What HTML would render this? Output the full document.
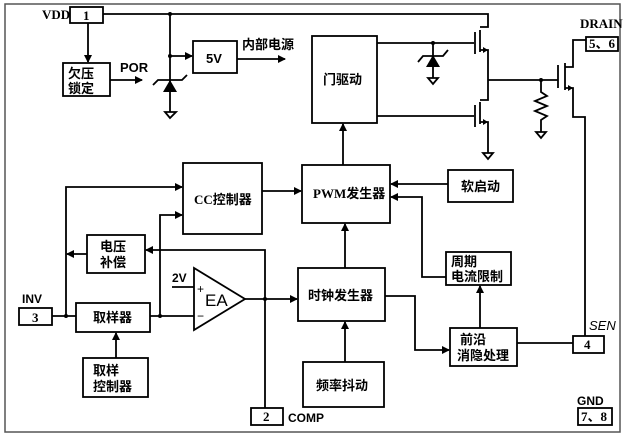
<!DOCTYPE html>
<html><head><meta charset="utf-8"><style>
html,body{margin:0;padding:0;background:#fff;}
svg{display:block;}
text{font-family:"Liberation Sans","Noto Sans CJK SC",sans-serif;fill:#000;}
.c{font-family:"Liberation Serif","Noto Sans CJK SC",serif;font-size:13px;font-weight:bold;}
</style></head><body>
<svg width="625" height="438" viewBox="0 0 625 438" xmlns="http://www.w3.org/2000/svg">
<defs><marker id="a" markerWidth="8" markerHeight="8" refX="7" refY="4" orient="auto" markerUnits="userSpaceOnUse"><path d="M0,0 L8,4 L0,8 z" fill="#000"/></marker></defs>
<rect x="0" y="0" width="625" height="438" fill="#fff"/>
<rect x="5" y="4" width="615" height="428" fill="none" stroke="#555" stroke-width="1.5"/>
<g stroke="#000" stroke-width="1.8" fill="none">
<rect x="70" y="7" width="33" height="16"/>
<path d="M103,14 H488 V27 H480"/>
<path d="M88,23 V62" marker-end="url(#a)"/>
<rect x="63" y="63" width="47" height="33"/>
<path d="M110,80 H142" marker-end="url(#a)"/>
<path d="M170,14 V104"/>
<path d="M170,56 H192" marker-end="url(#a)"/>
<rect x="193" y="41" width="44" height="32"/>
<path d="M237,59 H285" marker-end="url(#a)"/>
<path d="M153,85 L158,80 H182 L187,75"/>
<path d="M165,112 H176 L170,118 z M170,104 V112"/>
<rect x="312" y="36" width="65" height="87"/>
<path d="M343,165 V124" marker-end="url(#a)"/>
<path d="M377,43 H474 M377,116 H474"/>
<path d="M475,32 V54 M475,105 V127 M480,30 V52 M480,102 V124"/>
<path d="M480,50 H488 V100 H480 M480,122 H488 V153"/>
<path d="M483,153 H493 L488,159 z"/>
<path d="M488,80 H558"/>
<path d="M433,43 V78 M428,78 H438 L433,84 z"/>
<path d="M418,62 L423,56 H443 L448,50"/>
<path d="M541,80 V92 L547,96 L535,101 L547,106 L535,111 L547,116 L541,120 V132 M536,132 H546 L541,138 z"/>
<path d="M558,65 V88 M565,63 V90 M565,67 H573 V40 H586 M565,88 H573 V117 H585 V336"/>
<rect x="586" y="37" width="32" height="14"/>
<rect x="183" y="163" width="79" height="71"/>
<path d="M262,191 H301" marker-end="url(#a)"/>
<rect x="302" y="165" width="88" height="58"/>
<rect x="448" y="170" width="65" height="32"/>
<path d="M448,184 H391" marker-end="url(#a)"/>
<rect x="446" y="252" width="65" height="33"/>
<path d="M446,277 H422 V197 H391" marker-end="url(#a)"/>
<rect x="298" y="268" width="87" height="53"/>
<path d="M345,268 V224" marker-end="url(#a)"/>
<path d="M385,296 H415 V350 H449" marker-end="url(#a)"/>
<rect x="450" y="328" width="67" height="38"/>
<path d="M480,328 V286" marker-end="url(#a)"/>
<path d="M517,343 H573"/>
<rect x="573" y="336" width="31" height="17"/>
<rect x="303" y="362" width="81" height="45"/>
<path d="M345,362 V322" marker-end="url(#a)"/>
<rect x="19" y="308" width="33" height="17"/>
<path d="M52,316 H76"/>
<path d="M66,316 V187 H182" marker-end="url(#a)"/>
<rect x="87" y="235" width="58" height="38"/>
<path d="M87,254 H67" marker-end="url(#a)"/>
<rect x="76" y="303" width="74" height="29"/>
<path d="M150,316 H194"/>
<path d="M160,316 V215 H182" marker-end="url(#a)"/>
<path d="M194,268 V330 L245,299 z"/>
<path d="M172,287 H194"/>
<path d="M245,299 H297" marker-end="url(#a)"/>
<path d="M265,408 V250 H146" marker-end="url(#a)"/>
<rect x="83" y="358" width="65" height="39"/>
<path d="M116,358 V333" marker-end="url(#a)"/>
<rect x="251" y="408" width="32" height="17"/>
<rect x="578" y="408" width="34" height="17"/>
</g>
<g fill="#000">
<circle cx="170" cy="14" r="2"/><circle cx="170" cy="56" r="2"/><circle cx="433" cy="43" r="2"/>
<circle cx="541" cy="80" r="2"/><circle cx="66" cy="316" r="2"/><circle cx="160" cy="316" r="2"/><circle cx="265" cy="299" r="2"/>
<path d="M163,92 L177,92 L170,80 z"/><path d="M426,67 L440,67 L433,55 z"/>
<path d="M488,50 l-5,-3 v6 z M488,122 l-5,-3 v6 z M573,88 l-5,-3 v6 z"/>
</g>
<text x="42" y="19" class="c" font-size="12">VDD</text>
<text x="83" y="20" class="c" font-size="12">1</text>
<text x="68" y="78" class="c">欠压</text><text x="68" y="93" class="c">锁定</text>
<text x="120" y="72" font-weight="bold" font-size="13">POR</text>
<text x="206" y="63" font-weight="bold" font-size="13">5V</text>
<text x="242" y="49" class="c" font-size="14">内部电源</text>
<text x="323" y="84" class="c">门驱动</text>
<text x="580" y="28" class="c" font-size="12">DRAIN</text>
<text x="589" y="48" class="c" font-size="12">5、6</text>
<text x="194" y="204" class="c">CC控制器</text>
<text x="313" y="198" class="c" font-size="12">PWM发生器</text>
<text x="461" y="191" class="c">软启动</text>
<text x="451" y="266" class="c">周期</text><text x="451" y="281" class="c">电流限制</text>
<text x="308" y="300" class="c">时钟发生器</text>
<text x="460" y="344" class="c">前沿</text><text x="457" y="360" class="c">消隐处理</text>
<text x="589" y="330" font-style="italic" font-size="13">SEN</text>
<text x="584" y="349" class="c" font-size="12">4</text>
<text x="316" y="390" class="c">频率抖动</text>
<text x="100" y="251" class="c">电压</text><text x="100" y="267" class="c">补偿</text>
<text x="22" y="303" font-weight="bold" font-size="12">INV</text>
<text x="32" y="322" class="c" font-size="12">3</text>
<text x="93" y="322" class="c">取样器</text>
<text x="172" y="282" font-weight="bold" font-size="12">2V</text>
<text x="197" y="293" font-size="12">+</text>
<text x="197" y="320" font-size="12">−</text>
<text x="205" y="306" font-size="17">EA</text>
<text x="93" y="375" class="c">取样</text><text x="93" y="391" class="c">控制器</text>
<text x="263" y="421" class="c" font-size="12">2</text>
<text x="288" y="422" font-weight="bold" font-size="12">COMP</text>
<text x="577" y="405" font-weight="bold" font-size="12">GND</text>
<text x="581" y="421" class="c" font-size="12">7、8</text>
</svg>
</body></html>
